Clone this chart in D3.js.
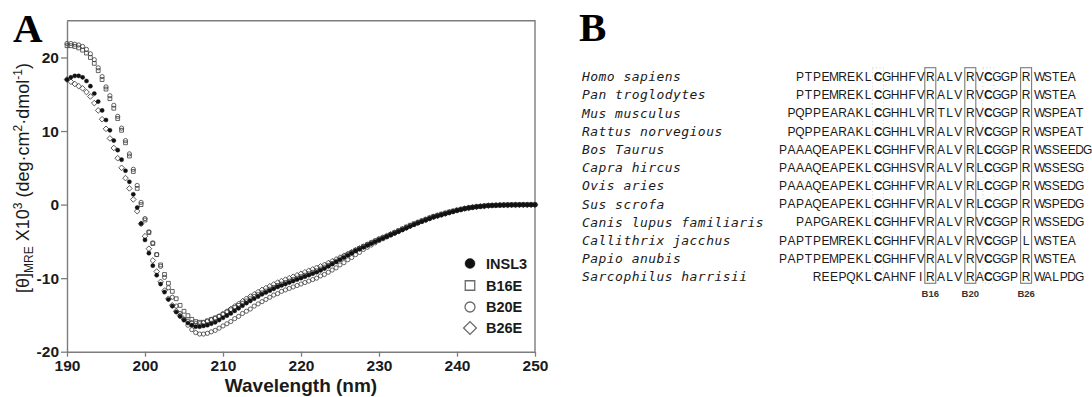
<!DOCTYPE html>
<html>
<head>
<meta charset="utf-8">
<script src="https://cdn.jsdelivr.net/npm/d3@7"></script>
<style>
  html, body { margin: 0; padding: 0; background: #fff; }
  svg { display: block; }
</style>
</head>
<body>
<svg id="fig" width="1092" height="397"></svg>
<script>
// ---- Panel A data: CD spectra, sampled every 0.5 nm from 190 to 250 nm ----
const wavelength = d3.range(190, 250.001, 0.5)
const xTicks = [190, 200, 210, 220, 230, 240, 250]
const yTicks = [-20, -10, 0, 10, 20]

const insl3 = [
  17.0, 17.3, 17.5, 17.5, 17.3, 16.8, 16.1, 15.1, 14.0, 12.8,        // 190
  11.5, 10.1, 8.7, 7.4, 6.1, 4.6, 3.1, 1.4, -0.4, -2.6,              // 195
  -4.8, -6.6, -8.3, -9.6, -10.8, -11.9, -12.9, -13.8, -14.6, -15.2,  // 200
  -15.7, -16.1, -16.4, -16.6, -16.6, -16.5, -16.4, -16.2, -16.0, -15.7,
  -15.4, -15.1, -14.8, -14.45, -14.1, -13.75, -13.4, -13.1, -12.8, -12.5,
  -12.2, -11.95, -11.7, -11.45, -11.2, -11.0, -10.8, -10.6, -10.4, -10.2,
  -10.0, -9.8, -9.6, -9.4, -9.2, -8.95, -8.7, -8.4, -8.1, -7.8,     // 220
  -7.5, -7.2, -6.9, -6.6, -6.3, -6.05, -5.8, -5.55, -5.3, -5.05,
  -4.8, -4.58, -4.35, -4.12, -3.9, -3.68, -3.45, -3.2, -2.95, -2.72, // 230
  -2.5, -2.3, -2.1, -1.9, -1.7, -1.55, -1.4, -1.25, -1.1, -0.95,
  -0.8, -0.68, -0.55, -0.46, -0.38, -0.31, -0.25, -0.2, -0.15, -0.12, // 240
  -0.1, -0.08, -0.07, -0.06, -0.05, -0.04, -0.04, -0.03, -0.03, -0.03, -0.03
]
const b16e = [
  21.6, 21.6, 21.5, 21.3, 21.0, 20.6, 20.0, 19.2, 18.2, 17.0,
  15.7, 14.4, 13.1, 11.7, 10.1, 8.4, 6.6, 4.5, 2.2, 0.0,
  -2.1, -3.8, -5.3, -6.8, -8.2, -9.5, -10.7, -11.8, -12.8, -13.7,
  -14.5, -15.1, -15.6, -15.9, -16.0, -16.0, -15.8, -15.6, -15.4, -15.2,
  -14.9, -14.6, -14.3, -14.0, -13.7, -13.4, -13.1, -12.8, -12.5, -12.25,
  -12.0, -11.75, -11.5, -11.25, -11.0, -10.8, -10.6, -10.4, -10.2, -10.0,
  -9.8, -9.6, -9.4, -9.2, -9.0, -8.75, -8.5, -8.25, -8.0, -7.7,
  -7.4, -7.1, -6.8, -6.5, -6.2, -5.95, -5.7, -5.45, -5.2, -4.95,
  -4.7, -4.5, -4.3, -4.05, -3.8, -3.55, -3.3, -3.05, -2.8, -2.6,
  -2.4, -2.2, -2.0, -1.8, -1.6, -1.45, -1.3, -1.15, -1.0, -0.88,
  -0.75, -0.64, -0.52, -0.43, -0.35, -0.29, -0.23, -0.18, -0.14, -0.11,
  -0.09, -0.07, -0.05, -0.04, -0.03, -0.03, -0.02, -0.02, -0.02, -0.01, -0.01
]
const b20e = [
  21.9, 21.9, 21.8, 21.7, 21.5, 21.1, 20.5, 19.7, 18.6, 17.4,
  16.0, 14.8, 13.5, 12.0, 10.4, 8.7, 6.9, 4.8, 2.6, 0.3,
  -1.9, -3.7, -5.2, -6.8, -8.4, -9.9, -11.3, -12.6, -13.8, -14.8,
  -15.6, -16.4, -17.0, -17.4, -17.6, -17.6, -17.5, -17.3, -17.1, -16.8,
  -16.5, -16.2, -15.9, -15.5, -15.2, -14.8, -14.5, -14.2, -13.8, -13.5,
  -13.2, -12.9, -12.6, -12.3, -12.1, -11.8, -11.6, -11.4, -11.2, -11.0,
  -10.8, -10.6, -10.4, -10.2, -10.0, -9.7, -9.5, -9.2, -8.9, -8.6,
  -8.2, -7.9, -7.5, -7.2, -6.8, -6.5, -6.1, -5.8, -5.5, -5.2,
  -4.9, -4.65, -4.4, -4.15, -3.9, -3.65, -3.4, -3.15, -2.9, -2.7,
  -2.5, -2.3, -2.1, -1.9, -1.7, -1.55, -1.4, -1.25, -1.1, -0.95,
  -0.8, -0.68, -0.55, -0.46, -0.38, -0.31, -0.25, -0.2, -0.15, -0.12,
  -0.1, -0.08, -0.06, -0.05, -0.04, -0.04, -0.03, -0.03, -0.02, -0.02, -0.02
]
const b26e = [
  17.0, 16.7, 16.4, 16.1, 15.8, 15.3, 14.7, 13.8, 12.8, 11.6,
  10.3, 9.0, 7.7, 6.3, 5.0, 3.6, 2.2, 0.7, -0.9, -2.6,
  -4.3, -6.0, -7.6, -9.1, -10.5, -11.7, -12.8, -13.7, -14.5, -15.1,
  -15.6, -15.9, -16.1, -16.2, -16.2, -16.1, -15.9, -15.7, -15.5, -15.2,
  -14.9, -14.55, -14.2, -13.85, -13.5, -13.15, -12.8, -12.5, -12.2, -11.9,
  -11.6, -11.35, -11.1, -10.85, -10.6, -10.4, -10.2, -10.0, -9.8, -9.6,
  -9.4, -9.2, -9.0, -8.8, -8.6, -8.4, -8.2, -7.95, -7.7, -7.45,
  -7.2, -6.95, -6.7, -6.45, -6.2, -5.95, -5.7, -5.45, -5.2, -4.95,
  -4.7, -4.48, -4.25, -4.02, -3.8, -3.57, -3.35, -3.12, -2.9, -2.68,
  -2.45, -2.25, -2.05, -1.85, -1.65, -1.5, -1.35, -1.2, -1.05, -0.92,
  -0.78, -0.66, -0.54, -0.45, -0.37, -0.3, -0.24, -0.19, -0.14, -0.11,
  -0.09, -0.07, -0.06, -0.05, -0.04, -0.04, -0.03, -0.03, -0.03, -0.02, -0.02
]

const seriesNames = ['INSL3', 'B16E', 'B20E', 'B26E']
const seriesShapes = ['dot', 'square', 'circle', 'diamond']
const seriesValues = [insl3, b16e, b20e, b26e]

// ---- Panel B data: B-chain alignment ----
const species = [
  'Homo sapiens', 'Pan troglodytes', 'Mus musculus', 'Rattus norvegious',
  'Bos Taurus', 'Capra hircus', 'Ovis aries', 'Sus scrofa',
  'Canis lupus familiaris', 'Callithrix jacchus', 'Papio anubis', 'Sarcophilus harrisii'
]
const sequences = [
  'PTPEMREKLCGHHFVRALVRVCGGPRWSTEA',
  'PTPEMREKLCGHHFVRALVRVCGGPRWSTEA',
  'PQPPEARAKLCGHHLVRTLVRVCGGPRWSPEAT',
  'PQPPEARAKLCGHHLVRALVRVCGGPRWSPEAT',
  'PAAAQEAPEKLCGHHFVRALVRLCGGPRWSSEEDG',
  'PAAAQEAPEKLCGHHSVRALVRLCGGPRWSSESG',
  'PAAAQEAPEKLCGHHFVRALVRLCGGPRWSSEDG',
  'PAPAQEAPEKLCGHHFVRALVRLCGGPRWSPEDG',
  'PAPGAREKLCGHHFVRALVRVCGGPRWSSEDG',
  'PAPTPEMREKLCGHHFVRALVRVCGGPLWSTEA',
  'PAPTPEMPEKLCGHHFVRALVRVCGGPRWSTEA',
  'REEPQKLCAHNFIRALVRACGGPRWALPDG'
]
// positions (counted from the first Cys) that are boxed / bold
const boxedCols = [6, 10, 16]
const boxedLabels = ['B16', 'B20', 'B26']
const cysCols = [0, 12]

const svg = d3.select('#fig')
const axisColor = '#7c7c7c'
const sans = "'Liberation Sans', Arial, sans-serif"

// ================= Panel A =================
const x = d3.scaleLinear().domain([190, 250]).range([67, 535])
const y = d3.scaleLinear().domain([-20, 25]).range([351.7, 20.7])

const gA = svg.append('g')

gA.append('text')
  .attr('x', 13).attr('y', 42)
  .attr('font-family', "'Liberation Serif', 'Times New Roman', serif")
  .attr('font-weight', 700)
  .attr('font-size', 41)
  .text('A')

// frame top / right
gA.append('path')
  .attr('d', `M${x(190)},${y(25)}H${x(250)}V${y(-20)}`)
  .attr('fill', 'none')
  .attr('stroke', axisColor)
  .attr('stroke-width', 1.4)

const plainNum = d => String(d)
const xAxis = gA.append('g')
  .attr('transform', `translate(0,${y(-20)})`)
  .call(d3.axisBottom(x).tickValues(xTicks).tickFormat(plainNum).tickSize(5).tickSizeOuter(0).tickPadding(3))
const yAxis = gA.append('g')
  .attr('transform', `translate(${x(190)},0)`)
  .call(d3.axisLeft(y).tickValues(yTicks).tickFormat(plainNum).tickSize(6).tickSizeOuter(0).tickPadding(2))

for (const ax of [xAxis, yAxis]) {
  ax.select('.domain').attr('stroke', axisColor).attr('stroke-width', 1.4)
  ax.selectAll('.tick line').attr('stroke', axisColor).attr('stroke-width', 1.3)
  ax.selectAll('.tick text')
    .attr('fill', '#1a1a1a')
    .attr('font-family', sans)
    .attr('font-weight', 700)
    .attr('font-size', 15.5)
}

gA.append('text')
  .attr('x', (x(190) + x(250)) / 2).attr('y', 392)
  .attr('text-anchor', 'middle')
  .attr('font-family', sans)
  .attr('font-weight', 700)
  .attr('font-size', 19)
  .attr('fill', '#1a1a1a')
  .text('Wavelength (nm)')

// y label with sub/superscripts
const yl = gA.append('text')
  .attr('transform', 'translate(29,178) rotate(-90)')
  .attr('text-anchor', 'middle')
  .attr('font-family', sans)
  .attr('font-size', 18)
  .attr('fill', '#1a1a1a')
const ylParts = [
  ['[θ]', 0, 18], ['MRE', 4, 12], [' X10', -4, 18], ['3', -7, 12],
  [' (deg·cm', 7, 18], ['2', -7, 12], ['·dmol', 7, 18], ['-1', -7, 12], [')', 7, 18]
]
ylParts.forEach(([t, dy, fs]) => yl.append('tspan').attr('dy', dy).attr('font-size', fs).text(t))

// markers
function markerPath(shape, s) {
  if (shape === 'square') return d3.symbol(d3.symbolSquare, s * s)()
  if (shape === 'diamond') return d3.symbol(d3.symbolSquare, s * s * 0.9)()
  return d3.symbol(d3.symbolCircle, Math.PI * (s / 2) * (s / 2))()
}
function drawMarker(sel, shape, s) {
  sel.attr('d', markerPath(shape, s))
    .attr('fill', shape === 'dot' ? '#111' : 'none')
    .attr('stroke', shape === 'dot' ? '#111' : '#3c3c3c')
    .attr('stroke-width', shape === 'dot' ? 0.4 : 0.8)
}

const plotOrder = [3, 2, 1, 0]
plotOrder.forEach(k => {
  const shape = seriesShapes[k]
  const pts = wavelength.map((w, i) => ({ w, v: seriesValues[k][i] }))
  gA.append('g').selectAll('path')
    .data(pts)
    .join('path')
    .attr('transform', d => `translate(${x(d.w)},${y(d.v)})${shape === 'diamond' ? ' rotate(45)' : ''}`)
    .call(drawMarker, shape, shape === 'square' ? 3.8 : 4.2)
})

// legend
const legend = gA.append('g')
const legendY = [263.5, 285.5, 307, 328]
seriesNames.forEach((name, k) => {
  const shape = seriesShapes[k]
  legend.append('path')
    .attr('transform', `translate(470,${legendY[k]})${shape === 'diamond' ? ' rotate(45)' : ''}`)
    .call(drawMarker, shape, shape === 'square' ? 9.5 : shape === 'diamond' ? 9.5 : 10)
    .attr('stroke', shape === 'dot' ? '#111' : '#6a6a6a')
    .attr('stroke-width', shape === 'dot' ? 0.4 : 1.3)
  legend.append('text')
    .attr('x', 486).attr('y', legendY[k] + 5.2)
    .attr('font-family', sans)
    .attr('font-weight', 700)
    .attr('font-size', 14.5)
    .attr('fill', '#1a1a1a')
    .text(name)
})

// ================= Panel B =================
const gB = svg.append('g')

gB.append('text')
  .attr('x', 579).attr('y', 41)
  .attr('font-family', "'Liberation Serif', 'Times New Roman', serif")
  .attr('font-weight', 700)
  .attr('font-size', 41)
  .text('B')

const rowY = d3.scaleLinear().domain([0, species.length - 1]).range([76.7, 276.7])

// column centres, counted from the first Cys
const colStep = 8.55
const colGap = { 6: 1.0, 7: 2.2, 10: 3.6, 11: 1.0, 16: 3.5 }
const colX = [878]
for (let i = 1; i <= 16; i++) colX[i] = colX[i - 1] + colStep + (colGap[i] || 0)
colX[17] = colX[16] + colStep + 5
for (let i = 18; i < 26; i++) colX[i] = colX[i - 1] + 8.0

const boxTop = 67.7, boxBottom = 283.3
cysCols.forEach(c => {
  gB.append('rect')
    .attr('x', colX[c] - 5.5).attr('y', boxTop)
    .attr('width', 11).attr('height', boxBottom - boxTop)
    .attr('fill', 'none')
    .attr('stroke', '#c4c4c4')
    .attr('stroke-width', 0.8)
    .attr('stroke-dasharray', '1,2.5')
})
boxedCols.forEach((c, k) => {
  gB.append('rect')
    .attr('x', colX[c] - 5.5).attr('y', boxTop)
    .attr('width', 11).attr('height', boxBottom - boxTop)
    .attr('fill', 'none')
    .attr('stroke', '#7a7a7a')
    .attr('stroke-width', 1.1)
  gB.append('text')
    .attr('x', colX[c]).attr('y', 296.5)
    .attr('text-anchor', 'middle')
    .attr('font-family', sans)
    .attr('font-weight', 700)
    .attr('font-size', 9.5)
    .attr('fill', '#333')
    .text(boxedLabels[k])
})

species.forEach((name, r) => {
  const cy = rowY(r)
  gB.append('text')
    .attr('x', 582).attr('y', cy + 4.6)
    .attr('font-family', "'DejaVu Sans Mono', monospace")
    .attr('font-style', 'italic')
    .attr('font-size', 13)
    .attr('letter-spacing', 0.45)
    .attr('fill', '#1a1a1a')
    .text(name)

  const seq = sequences[r]
  const cIdx = seq.indexOf('C')
  const residues = seq.split('').map((aa, i) => {
    const col = i - cIdx
    const px = col < 0 ? 868 + (col + 1) * 8.5 : colX[col]
    return { aa, px, bold: cysCols.includes(col) }
  })
  gB.append('g').selectAll('text')
    .data(residues)
    .join('text')
    .attr('x', d => d.px).attr('y', cy + 4.3)
    .attr('text-anchor', 'middle')
    .attr('font-family', sans)
    .attr('font-size', 12)
    .attr('font-weight', d => d.bold ? 700 : 400)
    .attr('fill', '#1a1a1a')
    .text(d => d.aa)
})
</script>
</body>
</html>
